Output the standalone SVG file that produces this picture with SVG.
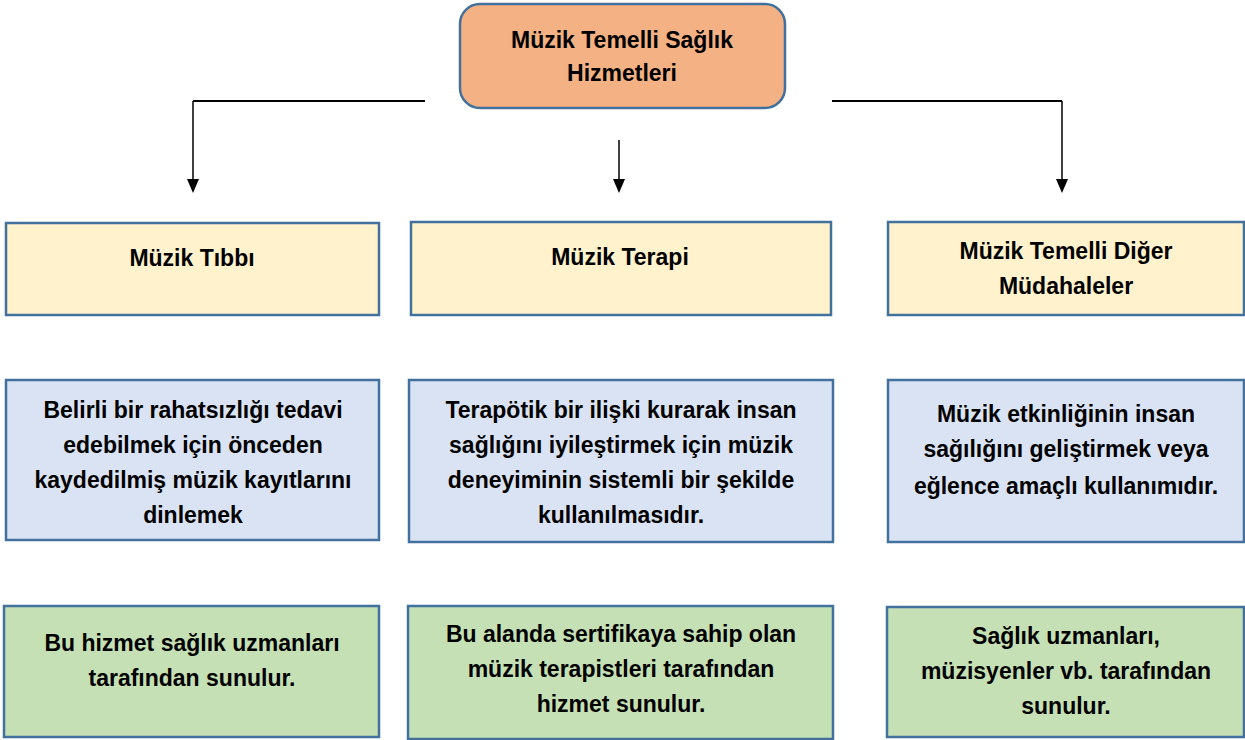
<svg xmlns="http://www.w3.org/2000/svg" width="1245" height="740" viewBox="0 0 1245 740">
<defs>
<style>
.box{stroke:#41719C;stroke-width:2.5}
.top{fill:#F4B183}
.y{fill:#FFF2CC}
.b{fill:#DAE3F3}
.g{fill:#C5E0B4}
text{font-family:"Liberation Sans",Arial,sans-serif;font-weight:bold;font-size:23px;fill:#000;text-anchor:middle}
.ln{stroke:#000;fill:none}
.ah{fill:#000}
</style>
</defs>
<rect width="1245" height="740" fill="#fff"/>
<g id="connectors">
<path class="ln" stroke-width="2" d="M425,101 H193"/>
<path class="ln" stroke-width="1.5" d="M193,101 V180"/>
<path class="ah" d="M187,179 L199,179 L193,193 Z"/>
<path class="ln" stroke-width="1.5" d="M619,140 V180"/>
<path class="ah" d="M613,179 L625,179 L619,193 Z"/>
<path class="ln" stroke-width="2" d="M832,101 H1062"/>
<path class="ln" stroke-width="1.5" d="M1062,101 V180"/>
<path class="ah" d="M1056,179 L1068,179 L1062,193 Z"/>
</g>
<g id="root">
<rect class="box top" x="460" y="4" width="325" height="104" rx="20"/>
<text x="622" y="48">Müzik Temelli Sağlık</text>
<text x="622" y="81">Hizmetleri</text>
</g>
<g id="n-tibbi">
<rect class="box y" x="6" y="223" width="373" height="92"/>
<text x="192" y="266">Müzik Tıbbı</text>
</g>
<g id="n-terapi">
<rect class="box y" x="411" y="222" width="420" height="93"/>
<text x="620" y="265">Müzik Terapi</text>
</g>
<g id="n-diger">
<rect class="box y" x="888" y="222" width="356" height="93"/>
<text x="1066" y="259">Müzik Temelli Diğer</text>
<text x="1066" y="294">Müdahaleler</text>
</g>
<g id="d-tibbi">
<rect class="box b" x="6" y="380" width="373" height="160"/>
<text x="193" y="418">Belirli bir rahatsızlığı tedavi</text>
<text x="193" y="453">edebilmek için önceden</text>
<text x="193" y="488">kaydedilmiş müzik kayıtlarını</text>
<text x="193" y="523">dinlemek</text>
</g>
<g id="d-terapi">
<rect class="box b" x="409" y="380" width="424" height="162"/>
<text x="621" y="418">Terapötik bir ilişki kurarak insan</text>
<text x="621" y="453">sağlığını iyileştirmek için müzik</text>
<text x="621" y="488">deneyiminin sistemli bir şekilde</text>
<text x="621" y="523">kullanılmasıdır.</text>
</g>
<g id="d-diger">
<rect class="box b" x="888" y="380" width="356" height="162"/>
<text x="1066" y="422">Müzik etkinliğinin insan</text>
<text x="1066" y="457">sağılığını geliştirmek veya</text>
<text x="1066" y="494">eğlence amaçlı  kullanımıdır.</text>
</g>
<g id="p-tibbi">
<rect class="box g" x="4" y="606" width="375" height="131"/>
<text x="192" y="651">Bu hizmet sağlık uzmanları</text>
<text x="192" y="686">tarafından sunulur.</text>
</g>
<g id="p-terapi">
<rect class="box g" x="408" y="606" width="425" height="133"/>
<text x="621" y="642">Bu alanda sertifikaya sahip olan</text>
<text x="621" y="677">müzik terapistleri tarafından</text>
<text x="621" y="712">hizmet sunulur.</text>
</g>
<g id="p-diger">
<rect class="box g" x="887" y="607" width="357" height="130"/>
<text x="1066" y="644">Sağlık uzmanları,</text>
<text x="1066" y="679">müzisyenler vb. tarafından</text>
<text x="1066" y="714">sunulur.</text>
</g>
</svg>
